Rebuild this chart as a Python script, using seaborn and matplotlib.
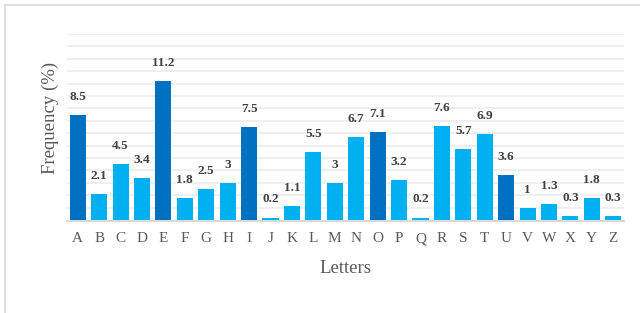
import matplotlib
matplotlib.use("Agg")
import matplotlib.pyplot as plt
import matplotlib.patches as mpatches
import seaborn as sns
import pandas as pd

letters = list("ABCDEFGHIJKLMNOPQRSTUVWXYZ")
frequency = [8.5, 2.1, 4.5, 3.4, 11.2, 1.8, 2.5, 3, 7.5, 0.2, 1.1, 5.5, 3,
             6.7, 7.1, 3.2, 0.2, 7.6, 5.7, 6.9, 3.6, 1, 1.3, 0.3, 1.8, 0.3]
vowels = set("AEIOU")

DARK = "#0070C0"
LIGHT = "#00B0F0"

df = pd.DataFrame({"Letter": letters, "Frequency": frequency})
palette = {l: (DARK if l in vowels else LIGHT) for l in letters}

sns.set_theme(style="white")
plt.rcParams["font.family"] = ["Liberation Serif", "DejaVu Serif"]

W, H = 640, 313
fig = plt.figure(figsize=(W / 100, H / 100), dpi=100)
fig.patch.set_facecolor("white")

left, right, top, base = 67, 624, 34, 221
ax = fig.add_axes([left / W, 1 - (base - 1) / H, (right - left) / W, (base - 1 - top) / H])

sns.barplot(data=df, x="Letter", y="Frequency", hue="Letter", palette=palette,
            legend=False, width=0.75, saturation=1, ax=ax, zorder=3,
            linewidth=0)

ax.set_ylim(0, 15)
ax.set_xlim(-0.5, len(letters) - 0.5)
ax.set_yticks(range(1, 16))
ax.set_yticklabels([])
ax.yaxis.grid(True, color="#eeeeee", linewidth=1.3, zorder=0)
ax.xaxis.grid(False)
ax.set_axisbelow(True)
for s in ["top", "right", "left"]:
    ax.spines[s].set_visible(False)
ax.spines["bottom"].set_color("#d9d9d9")
ax.spines["bottom"].set_linewidth(1.6)
ax.spines["bottom"].set_zorder(1)
ax.spines["bottom"].set_position(("outward", 1))

ax.tick_params(axis="x", length=0, pad=8, labelsize=11, labelcolor="#595959")
ax.tick_params(axis="y", length=0)

for i, v in enumerate(frequency):
    ax.annotate(f"{v:g}", (i, v), xytext=(0, 13), textcoords="offset points",
                ha="center", va="center", fontsize=9.5, fontweight="bold",
                color="#404040")

ax.set_xlabel("Letters", fontsize=13.5, color="#595959", va="center")
ax.xaxis.set_label_coords(0.5, (base - 270) / (base - top))
ax.set_ylabel("Frequency (%)", fontsize=13.5, color="#595959", va="center")
ax.yaxis.set_label_coords((50 - left) / (right - left), (base - 118.5) / (base - top))

rect = mpatches.Rectangle((5 / W, -0.1), 1.2, 1.1 - 5 / H, transform=fig.transFigure,
                          fill=False, edgecolor="#d9d9d9", linewidth=1.2, zorder=0)
fig.patches.append(rect)

fig.savefig("out.png", dpi=100)
